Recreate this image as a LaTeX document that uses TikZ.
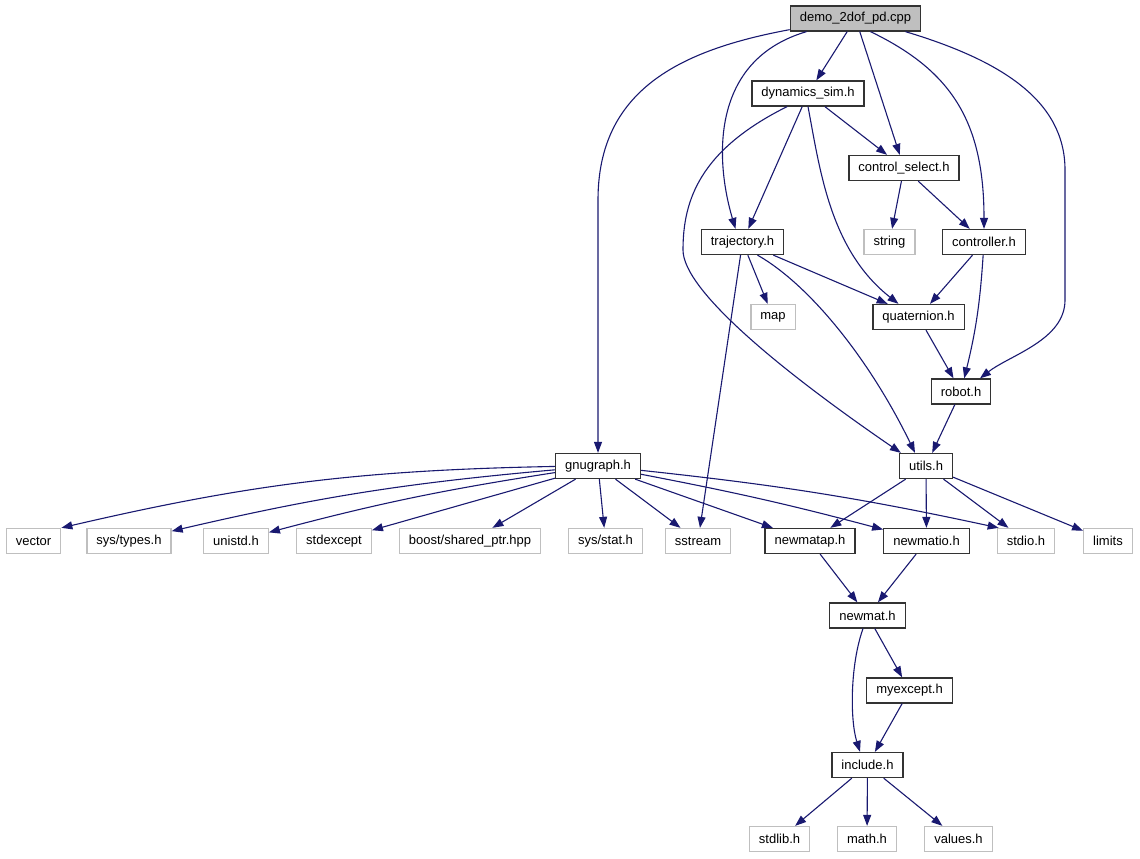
\documentclass[tikz,border=0pt]{standalone}
\usepackage{fontspec}
\setmainfont{Liberation Sans}
\usetikzlibrary{arrows.meta}

\definecolor{edgeblue}{HTML}{191970}
\definecolor{sysgray}{HTML}{BFBFBF}

\begin{document}
\begin{tikzpicture}
        [x=1pt, y=1pt,
        hdr/.style = {rectangle, draw=black!80, line width=1.3pt,
        minimum height=25pt, inner xsep=9.5pt, inner ysep=0pt,
        font=\fontsize{13}{15}\selectfont},
        stdhdr/.style = {hdr, draw=sysgray},
        dep/.style = {draw=edgeblue, line width=1.1pt,
        -{Triangle[length=11pt,width=8pt]}}]

        \useasboundingbox (0,0) rectangle (1140,-859);

        % Main file
        \node[hdr,fill=sysgray] (demo) at (855.5,-18.5) {demo\_2dof\_pd.cpp};

        % Project headers
        \node[hdr] (dyn) at (808,-93.5) {dynamics\_sim.h};
        \node[hdr] (ctrlsel) at (904,-168) {control\_select.h};
        \node[hdr] (traj) at (742.5,-242) {trajectory.h};
        \node[stdhdr] (str) at (889.5,-242) {string};
        \node[hdr] (ctrl) at (984,-242) {controller.h};
        \node[stdhdr] (map) at (773,-317) {map};
        \node[hdr] (quat) at (918.5,-317) {quaternion.h};
        \node[hdr] (robot) at (961,-391.5) {robot.h};
        \node[hdr] (gnu) at (598,-466) {gnugraph.h};
        \node[hdr] (utils) at (926,-466) {utils.h};

        % Row of includes
        \node[stdhdr] (vector) at (33.5,-541) {vector};
        \node[stdhdr] (types) at (129,-541) {sys/types.h};
        \node[stdhdr] (unistd) at (236,-541) {unistd.h};
        \node[stdhdr] (stdexcept) at (334,-541) {stdexcept};
        \node[stdhdr] (boost) at (470,-541) {boost/shared\_ptr.hpp};
        \node[stdhdr] (stat) at (605.5,-541) {sys/stat.h};
        \node[stdhdr] (sstream) at (698,-541) {sstream};
        \node[hdr] (newmatap) at (810,-541) {newmatap.h};
        \node[hdr] (newmatio) at (926.5,-541) {newmatio.h};
        \node[stdhdr] (stdio) at (1026,-541) {stdio.h};
        \node[stdhdr] (limits) at (1108,-541) {limits};

        % newmat
        \node[hdr] (newmat) at (867.5,-615.5) {newmat.h};
        \node[hdr] (myexcept) at (909.5,-690.5) {myexcept.h};
        \node[hdr] (include) at (867.5,-765) {include.h};
        \node[stdhdr] (stdlib) at (779.5,-839) {stdlib.h};
        \node[stdhdr] (math) at (867,-839) {math.h};
        \node[stdhdr] (values) at (958.5,-839) {values.h};

        % Edges from the main file
        \draw[dep] ([yshift=2pt]demo.south west) .. controls (680,-50) and (598,-90) .. (598,-200) -- (gnu.north);
        \draw[dep] ([xshift=-49pt]demo.south) .. controls (710,-60) and (715,-160) .. ([xshift=-7pt]traj.north);
        \draw[dep] (demo) -- (dyn);
        \draw[dep] (demo) -- (ctrlsel);
        \draw[dep] ([xshift=15pt]demo.south) .. controls (950,-70) and (984,-120) .. (ctrl.north);
        \draw[dep] ([xshift=50pt]demo.south) .. controls (1000,-60) and (1065,-100) .. (1065,-170)
                -- (1065,-300) .. controls (1065,-340) and (1010,-355) .. ([xshift=19pt]robot.north);

        % dynamics_sim.h
        \draw[dep] ([xshift=-21pt]dyn.south) .. controls (700,-150) and (683,-200) .. (683,-250)
                .. controls (683,-290) and (780,-370) .. ([xshift=2pt]utils.north west);
        \draw[dep] (dyn) -- (traj);
        \draw[dep] (dyn.south) .. controls (820,-170) and (830,-250) .. ([xshift=-20pt]quat.north);
        \draw[dep] (dyn) -- (ctrlsel);

        % control_select.h, trajectory.h, controller.h
        \draw[dep] (ctrlsel) -- (str);
        \draw[dep] (ctrlsel) -- (ctrl);
        \draw[dep] (traj) -- (map);
        \draw[dep] (traj) -- (quat);
        \draw[dep] ([xshift=15pt]traj.south) .. controls (810,-285) and (870,-360) .. ([xshift=-11pt]utils.north);
        \draw[dep] (traj) -- (sstream);
        \draw[dep] (ctrl) -- (quat);
        \draw[dep] (ctrl) to[bend left=5] (robot);
        \draw[dep] (quat) -- (robot);
        \draw[dep] (robot) -- (utils);

        % gnugraph.h
        \draw[dep] (gnu) to[bend right=6] (vector.north east);
        \draw[dep] (gnu) to[bend right=4] (types);
        \draw[dep] (gnu) to[bend right=3] (unistd);
        \draw[dep] (gnu) -- (stdexcept);
        \draw[dep] (gnu) -- (boost);
        \draw[dep] (gnu) -- (stat);
        \draw[dep] (gnu) -- (sstream);
        \draw[dep] (gnu) -- (newmatap);
        \draw[dep] (gnu) to[bend left=2] (newmatio);
        \draw[dep] (gnu) to[bend left=3] ([xshift=2pt]stdio.north west);

        % utils.h
        \draw[dep] (utils) -- (newmatap);
        \draw[dep] (utils) -- (newmatio);
        \draw[dep] (utils) -- (stdio);
        \draw[dep] (utils) -- (limits);

        % newmat
        \draw[dep] (newmatap) -- (newmat);
        \draw[dep] (newmatio) -- (newmat);
        \draw[dep] (newmat) -- (myexcept);
        \draw[dep] ([xshift=-4.5pt]newmat.south) .. controls (850,-665) and (850,-720) .. ([xshift=-7.5pt]include.north);
        \draw[dep] (myexcept) -- (include);
        \draw[dep] (include) -- (stdlib);
        \draw[dep] (include) -- (math);
        \draw[dep] (include) -- (values);
    \end{tikzpicture}
\end{document}
